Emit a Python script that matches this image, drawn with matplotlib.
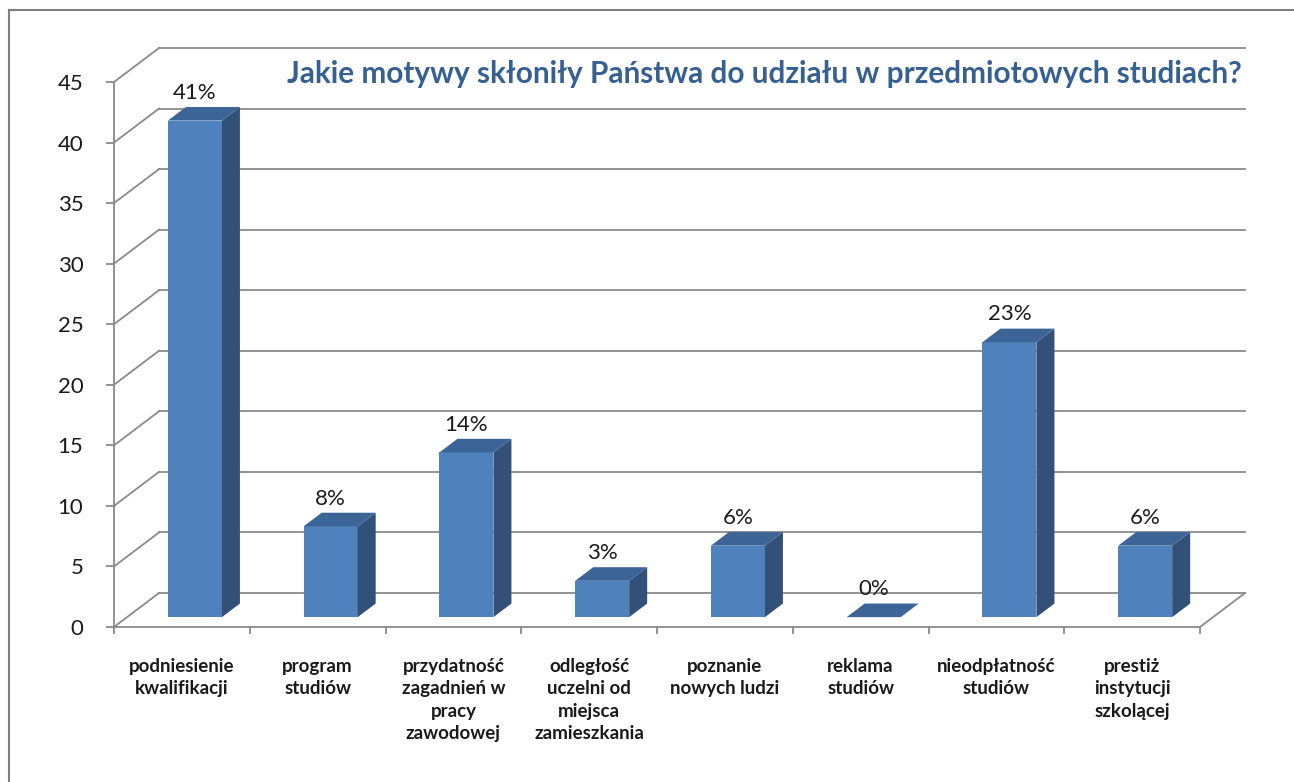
import numpy as np
import matplotlib.pyplot as plt
from matplotlib.patches import Polygon
from matplotlib.lines import Line2D

# ── Datos del gráfico ──────────────────────────────
kategorie = [
    "podniesienie\nkwalifikacji",
    "program\nstudiów",
    "przydatność\nzagadnień w\npracy\nzawodowej",
    "odległość\nuczelni od\nmiejsca\nzamieszkania",
    "poznanie\nnowych ludzi",
    "reklama\nstudiów",
    "nieodpłatność\nstudiów",
    "prestiż\ninstytucji\nszkolącej",
]
wartosci = [41.0, 7.5, 13.6, 3.0, 5.9, 0.0, 22.7, 5.9]
etykiety = ["41%", "8%", "14%", "3%", "6%", "0%", "23%", "6%"]
y_ticks = [0, 5, 10, 15, 20, 25, 30, 35, 40, 45]
tytul = "Jakie motywy skłoniły Państwa do udziału w przedmiotowych studiach?"

# ── Estilo ────────────────────────────────────────
plt.rcParams['font.family'] = ['Lato', 'DejaVu Sans']
SZARY = "#8a8a8a"
C_FRONT = "#4F81BD"
C_TOP = "#3C6496"
C_SIDE = "#325078"

W, H = 1294, 782
fig = plt.figure(figsize=(W / 100, H / 100), dpi=100)

# eje frontal: x 114..1200 px, y 627..82 px
x0, x1, y0, y1 = 114, 1200, 627, 82
ax = fig.add_axes([x0 / W, 1 - y0 / H, (x1 - x0) / W, (y0 - y1) / H])
n = len(kategorie)
ax.set_xlim(0, n)
ax.set_ylim(0, 45)

# desplazamiento de profundidad (en unidades de datos)
px_x = n / (x1 - x0)
px_y = 45 / (y0 - y1)
DX, DY = 45 * px_x, 34 * px_y

# rejilla en pared del fondo y lateral
for v in y_ticks:
    ax.add_line(Line2D([DX, n + DX], [v + DY, v + DY], color=SZARY, lw=1.3, clip_on=False, zorder=1))
    ax.add_line(Line2D([0, DX], [v, v + DY], color=SZARY, lw=1.3, clip_on=False, zorder=1))
# suelo
ax.add_line(Line2D([n, n + DX], [0, DY], color=SZARY, lw=1.3, clip_on=False, zorder=1))

# barras 3D
f0, f1 = 0.29, 0.69
hw = 27 * px_x
for i, (v, lab) in enumerate(zip(wartosci, etykiety)):
    c = i + 0.5
    xa, xb = c - hw + f0 * DX, c + hw + f0 * DX
    xc, xd = c - hw + f1 * DX, c + hw + f1 * DX
    ya, yb = f0 * DY, f1 * DY
    if v > 0:
        ax.add_patch(Polygon([(xa, ya), (xb, ya), (xb, v + ya), (xa, v + ya)],
                             closed=True, facecolor=C_FRONT, edgecolor="none", zorder=3, clip_on=False))
        ax.add_patch(Polygon([(xb, ya), (xd, yb), (xd, v + yb), (xb, v + ya)],
                             closed=True, facecolor=C_SIDE, edgecolor="none", zorder=3, clip_on=False))
    ax.add_patch(Polygon([(xa, v + ya), (xb, v + ya), (xd, v + yb), (xc, v + yb)],
                         closed=True, facecolor=C_TOP, edgecolor="none", zorder=3, clip_on=False))
    ax.annotate(lab, xy=((xa + xb) / 2, v + yb), xytext=(0, 3), textcoords="offset points",
                ha="center", va="bottom", fontsize=16, color="#1a1a1a", zorder=4)

# ejes
ax.set_facecolor("none")
for s in ["top", "right"]:
    ax.spines[s].set_visible(False)
for s in ["left", "bottom"]:
    ax.spines[s].set_color(SZARY)
    ax.spines[s].set_linewidth(1.3)
ax.set_yticks(y_ticks)
ax.tick_params(axis="y", direction="out", length=6, width=1.3, color=SZARY,
               labelsize=16, pad=16, labelcolor="#1a1a1a")
ax.set_xticks(np.arange(n + 1))
ax.set_xticklabels([])
ax.set_xticks(np.arange(n) + 0.5, minor=True)
ax.set_xticklabels(kategorie, minor=True, fontsize=13.5, fontweight="bold", color="#1a1a1a")
ax.tick_params(axis="x", which="major", direction="out", length=5, width=1.3, color=SZARY)
ax.tick_params(axis="x", which="minor", length=0, pad=22)
for t in ax.get_xticklabels(minor=True):
    t.set_linespacing(1.4)
    t.set_verticalalignment("top")

# tytuł
fig.text(764 / W, 1 - 74 / H, tytul, ha="center", va="center", fontsize=21.4,
         fontweight="bold", color="#376092")

# ramka
fig.add_artist(Line2D([9 / W, 9 / W], [0, 1 - 10 / H], transform=fig.transFigure, color="#7f7f7f", lw=1.5))
fig.add_artist(Line2D([9 / W, 1], [1 - 10 / H, 1 - 10 / H], transform=fig.transFigure, color="#7f7f7f", lw=1.5))

fig.savefig("out.png", dpi=100)
